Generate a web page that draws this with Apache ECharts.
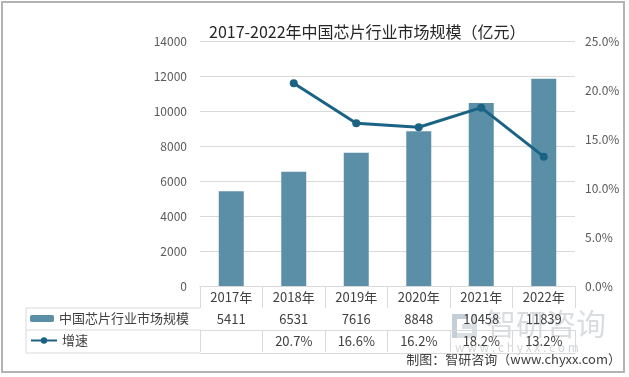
<!DOCTYPE html>
<html>
<head>
<meta charset="utf-8">
<script src="https://cdn.jsdelivr.net/npm/echarts@6/dist/echarts.min.js"></script>
<style>
  html, body { margin: 0; padding: 0; background: #fff; }
  #main { width: 629px; height: 377px; }
</style>
</head>
<body>
<div id="main"></div>
<script>
// 数据
var years = ['2017年', '2018年', '2019年', '2020年', '2021年', '2022年'];
var marketSize = [5411, 6531, 7616, 8848, 10458, 11839];   // 亿元
var growthRate = [null, 20.7, 16.6, 16.2, 18.2, 13.2];     // %
var leftTicks = { min: 0, max: 14000, interval: 2000 };
var rightTicks = { min: 0, max: 25, interval: 5 };

var FONT = 'Noto Sans CJK SC';
var TXT = '#404040';
var LINE_C = '#d9d9d9';
var BAR_C = '#5b8fa8';
var RATE_C = '#1a6384';

var myChart = echarts.init(document.getElementById('main'));

// 表格行的文字
var sizeRow = marketSize.map(function (v) { return String(v); });
var rateRow = growthRate.map(function (v) { return v == null ? '' : v.toFixed(1) + '%'; });

function tableAxis(rowData, offset, showLabel, showTick) {
	return {
		type: 'category',
		data: rowData,
		position: 'bottom',
		offset: offset,
		axisLine: { show: true, lineStyle: { color: LINE_C, width: 1 } },
		axisTick: { show: showTick, length: 22, lineStyle: { color: LINE_C } },
		axisLabel: { show: showLabel, margin: 5, color: TXT, fontSize: 13, fontFamily: FONT, interval: 0 },
		splitLine: { show: false }
	};
}

var option = {
	backgroundColor: '#fff',
	animation: false,
	textStyle: { fontFamily: FONT },
	title: {
		text: '2017-2022年中国芯片行业市场规模（亿元）',
		left: 204,
		top: 19,
		textStyle: { fontSize: 16, fontWeight: 'normal', color: '#262626', fontFamily: FONT }
	},
	legend: [
		{
			data: ['中国芯片行业市场规模'],
			left: 30, top: 312, padding: 0,
			itemWidth: 24, itemHeight: 7,
			textStyle: { fontSize: 13, color: TXT, fontFamily: FONT }
		},
		{
			data: ['增速'],
			left: 30, top: 334, padding: 0,
			itemWidth: 26, itemHeight: 8,
			textStyle: { fontSize: 13, color: TXT, fontFamily: FONT }
		}
	],
	grid: { left: 200, right: 54, top: 41, bottom: 91 },
	xAxis: [
		{
			type: 'category',
			data: years,
			position: 'bottom',
			axisLine: { show: true, lineStyle: { color: LINE_C } },
			axisTick: { show: true, length: 22, lineStyle: { color: LINE_C } },
			axisLabel: { margin: 5, color: TXT, fontSize: 13, fontFamily: FONT, interval: 0 }
		},
		tableAxis(sizeRow, 22, true, true),
		tableAxis(rateRow, 44, true, true),
		tableAxis(years, 67, false, false)
	],
	yAxis: [
		{
			type: 'value',
			min: leftTicks.min, max: leftTicks.max, interval: leftTicks.interval,
			axisLine: { show: false },
			axisTick: { show: false },
			axisLabel: {
				margin: 13, color: '#595959', fontSize: 12, fontFamily: FONT,
				formatter: function (v) { return String(v); }
			},
			splitLine: { lineStyle: { color: LINE_C, width: 1 } }
		},
		{
			type: 'value',
			min: rightTicks.min, max: rightTicks.max, interval: rightTicks.interval,
			axisLine: { show: false },
			axisTick: { show: false },
			splitLine: { show: false },
			axisLabel: {
				margin: 10, color: '#595959', fontSize: 12, fontFamily: FONT,
				formatter: function (v) { return v.toFixed(1) + '%'; }
			}
		}
	],
	series: [
		{
			name: '中国芯片行业市场规模',
			type: 'bar',
			data: marketSize,
			barWidth: '40%',
			itemStyle: { color: BAR_C },
			z: 2
		},
		{
			name: '增速',
			type: 'line',
			yAxisIndex: 1,
			data: growthRate,
			symbol: 'circle',
			symbolSize: 8,
			lineStyle: { color: RATE_C, width: 3 },
			itemStyle: { color: RATE_C },
			z: 3
		}
	],
	graphic: [
		// 外框
		{ type: 'rect', shape: { x: 2, y: 2, width: 622, height: 370 }, style: { fill: null, stroke: '#b3b3b3', lineWidth: 2 }, silent: true },
		// 左侧图例列的表格线
		{ type: 'line', shape: { x1: 26, y1: 308, x2: 200, y2: 308 }, style: { stroke: LINE_C, lineWidth: 1 } },
		{ type: 'line', shape: { x1: 26, y1: 330, x2: 200, y2: 330 }, style: { stroke: LINE_C, lineWidth: 1 } },
		{ type: 'line', shape: { x1: 26, y1: 353, x2: 200, y2: 353 }, style: { stroke: LINE_C, lineWidth: 1 } },
		{ type: 'line', shape: { x1: 26, y1: 308, x2: 26, y2: 353 }, style: { stroke: LINE_C, lineWidth: 1 } },
		// 水印
		{ type: 'rect', z: -1, shape: { x: 452, y: 314, width: 16, height: 5 }, style: { fill: '#c3ced8' } },
		{ type: 'rect', z: -1, shape: { x: 452, y: 314, width: 5, height: 24 }, style: { fill: '#c3ced8' } },
		{ type: 'rect', z: -1, shape: { x: 462, y: 324, width: 15, height: 5 }, style: { fill: '#dadfe4' } },
		{ type: 'rect', z: -1, shape: { x: 472, y: 314, width: 5, height: 24 }, style: { fill: '#dadfe4' } },
		{ type: 'rect', z: -1, shape: { x: 457, y: 333, width: 15, height: 5 }, style: { fill: '#dadfe4' } },
		{ type: 'text', z: -1, left: 486, top: 309, style: { text: '智研咨询', fontSize: 30, fill: '#dadde0', fontFamily: FONT } },
		{ type: 'text', z: -1, left: 455, top: 341, style: { text: 'w w w . c h y x x . c o m', fontSize: 12, fill: '#d3d6d9', fontFamily: FONT } },
		// 来源
		{ type: 'text', right: 8, top: 353, style: { text: '制图：智研咨询（www.chyxx.com）', fontSize: 13, fill: TXT, fontFamily: FONT } }
	]
};

myChart.setOption(option);
</script>
</body>
</html>
